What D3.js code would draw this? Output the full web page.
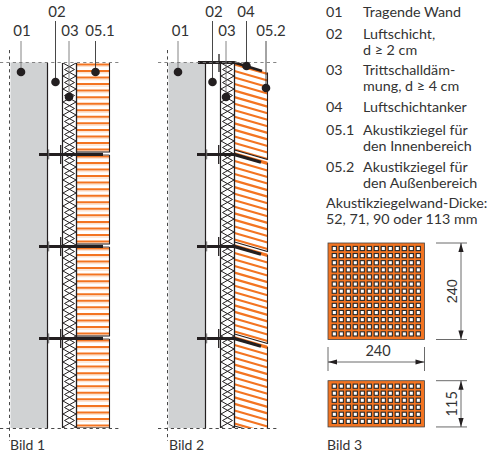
<!DOCTYPE html>
<html>
<head>
<meta charset="utf-8">
<style>
body { margin: 0; background: #fff; }
text { font-family: Lato, "Open Sans", sans-serif; fill: #333; }
</style>
<script src="https://cdnjs.cloudflare.com/ajax/libs/d3/7.8.5/d3.min.js"></script>
</head>
<body>
<div id="chart"></div>
<script>
// legend rows: number + up to two lines
var legendNumbers = ["01", "02", "03", "04", "05.1", "05.2"];
var legendLines = [
    ["Tragende Wand"],
    ["Luftschicht,", "d ≥ 2 cm"],
    ["Trittschalldäm-", "mung, d ≥ 4 cm"],
    ["Luftschichtanker"],
    ["Akustikziegel für", "den Innenbereich"],
    ["Akustikziegel für", "den Außenbereich"]
];
var noteLines = ["Akustikziegelwand-Dicke:", "52, 71, 90 oder 113 mm"];
var figureNames = ["Bild 1", "Bild 2", "Bild 3"];

// wall courses, anchors sit in the joints between them
var courses = [0, 1, 2, 3];
var anchorJoints = [1, 2, 3];
var stripeRows = d3.range(0, 15);
var insulationRows = d3.range(0, 29);

// brick formats in mm, hole grid counts
var brickLength = 240;
var brickHeights = [240, 115];
var holeRows = [13, 6];
var holeCols = 13;

var width = 493, height = 454;
var svg = d3.select("#chart").append("svg")
    .attr("width", width)
    .attr("height", height)
    .style("display", "block");

var dark = "#231f20", orange = "#f37421", pale = "#fde3d0", grey = "#d0d2d3";

// one course = one brick height on the drawing
var y = d3.scaleLinear().domain([0, 4]).range([63, 431]);

function drawWall(ox, tilt, labels) {
    var g = svg.append("g").attr("transform", "translate(" + ox + ",0)");
    var clipId = "clip" + ox;
    g.append("clipPath").attr("id", clipId)
        .append("rect").attr("x", -20).attr("y", 62.5).attr("width", 160).attr("height", 365.5);

    var body = g.append("g").attr("clip-path", "url(#" + clipId + ")");

    // bearing wall
    body.append("rect").attr("x", 0.5).attr("y", 62).attr("width", 37).attr("height", 366).attr("fill", grey);
    g.append("line").attr("x1", 37.5).attr("x2", 37.5).attr("y1", 63).attr("y2", 428)
        .attr("stroke", dark).attr("stroke-width", 1.2);

    // insulation zigzag
    var ih = 13;
    var zig = d3.line().x(function (d) { return d[0]; }).y(function (d) { return d[1]; });
    insulationRows.forEach(function (i) {
        var t = 63 + i * ih;
        [[53, 64.5], [66, 54.5]].forEach(function (p) {
            body.append("path")
                .attr("d", zig([[p[0], t], [p[1], t + ih / 2], [p[0], t + ih]]))
                .attr("fill", "none").attr("stroke", dark).attr("stroke-width", 1);
        });
    });
    g.append("line").attr("x1", 52.5).attr("x2", 52.5).attr("y1", 63).attr("y2", 428)
        .attr("stroke", dark).attr("stroke-width", 1.2);
    g.append("line").attr("x1", 66.5).attr("x2", 66.5).attr("y1", 63).attr("y2", 428)
        .attr("stroke", dark).attr("stroke-width", 1.3);

    // bricks
    var bx0 = 66.5, bx1 = 99.5, bw = bx1 - bx0;
    courses.forEach(function (c) {
        var top = y(c) - (tilt && c > 0 ? 2 : 0);
        var bot = y(c + 1) - (tilt ? 5 : 3);
        var shape = [[bx0, top], [bx1, top + tilt], [bx1, bot + tilt], [bx0, bot]];
        var id = "brick" + ox + "_" + c;
        body.append("clipPath").attr("id", id).append("path").attr("d", zig(shape) + "Z");
        var b = body.append("g").attr("clip-path", "url(#" + id + ")");
        b.append("path").attr("d", zig(shape) + "Z").attr("fill", "#fff");
        stripeRows.forEach(function (r) {
            var sy = top + r * 6.55 + 1.4;
            if (tilt === 0) {
                b.append("line").attr("x1", bx0).attr("x2", bx1).attr("y1", sy + 1.9).attr("y2", sy + 1.9)
                    .attr("stroke", pale).attr("stroke-width", 1.5);
            }
            b.append("line").attr("x1", bx0).attr("x2", bx1).attr("y1", sy).attr("y2", sy + tilt)
                .attr("stroke", orange).attr("stroke-width", tilt ? 2.2 : 2);
        });
        body.append("path")
            .attr("d", zig([[bx1, top + tilt], [bx1, bot + tilt], [bx0, bot]]))
            .attr("fill", "none").attr("stroke", dark).attr("stroke-width", 1.1);
        if (c > 0) {
            body.append("line").attr("x1", bx0).attr("x2", bx1).attr("y1", top).attr("y2", top + tilt)
                .attr("stroke", tilt ? orange : dark).attr("stroke-width", tilt ? 1.5 : 0.8);
        }
    });

    // anchors
    anchorJoints.forEach(function (j) {
        var ay = y(j) - 0.6;
        g.append("line").attr("x1", 29).attr("x2", 66).attr("y1", ay).attr("y2", ay)
            .attr("stroke", dark).attr("stroke-width", 3);
        g.append("line").attr("x1", 66).attr("x2", 93).attr("y1", ay).attr("y2", ay + tilt * 27 / bw)
            .attr("stroke", dark).attr("stroke-width", 3.2);
        g.append("line").attr("x1", 50.7).attr("x2", 50.7).attr("y1", ay - 9.5).attr("y2", ay + 9.5)
            .attr("stroke", dark).attr("stroke-width", 1.3);
        g.append("line").attr("x1", 38.7).attr("x2", 38.7).attr("y1", ay - 5).attr("y2", ay + 5)
            .attr("stroke", "#666").attr("stroke-width", 1);
    });
    if (tilt !== 0) {
        // top anchor of the outer wall
        g.append("path").attr("d", zig([[30, 62.5], [66, 62.5], [94, 71]]))
            .attr("fill", "none").attr("stroke", dark).attr("stroke-width", 2.8);
        g.append("line").attr("x1", 51).attr("x2", 51).attr("y1", 54).attr("y2", 72)
            .attr("stroke", dark).attr("stroke-width", 1.3);
    }

    // dashed section lines
    [62.5, 428.5].forEach(function (dy) {
        g.append("line").attr("x1", -10).attr("x2", 110).attr("y1", dy).attr("y2", dy)
            .attr("stroke", dy < 100 ? "#777" : "#333").attr("stroke-width", 0.9).attr("stroke-dasharray", "3.2,3.2");
    });
    g.append("line").attr("x1", -0.5).attr("x2", -0.5).attr("y1", 50).attr("y2", 441)
        .attr("stroke", "#333").attr("stroke-width", 0.9).attr("stroke-dasharray", "3.2,3.2");

    // callouts
    labels.forEach(function (d) {
        var tall = d.row === 0;
        g.append("line").attr("x1", d.x).attr("x2", d.x).attr("y1", tall ? 21 : 41).attr("y2", d.dot)
            .attr("stroke", d.name === "01" || d.name === "03" ? "#777" : "#333").attr("stroke-width", 0.9);
        g.append("circle").attr("cx", d.x).attr("cy", d.dot).attr("r", 4.3).attr("fill", dark);
        g.append("text").attr("x", d.tx).attr("y", tall ? 17 : 36).attr("text-anchor", "middle")
            .attr("font-size", 15).text(d.name);
    });
}

drawWall(10, 0, [
    { name: "01", x: 11, dot: 72, tx: 12, row: 1 },
    { name: "02", x: 45.5, dot: 82, tx: 47, row: 0 },
    { name: "03", x: 59, dot: 97, tx: 60, row: 1 },
    { name: "05.1", x: 85.5, dot: 72, tx: 90, row: 1 }
]);
drawWall(168, 9.5, [
    { name: "01", x: 10, dot: 72, tx: 12.5, row: 1 },
    { name: "02", x: 44.5, dot: 82, tx: 46, row: 0 },
    { name: "03", x: 58, dot: 97, tx: 59, row: 1 },
    { name: "04", x: 78.5, dot: 66, tx: 78, row: 0 },
    { name: "05.2", x: 98, dot: 88, tx: 103, row: 1 }
]);

// legend
var legendY = [16.7, 38.8, 75, 112, 134.5, 172];
legendNumbers.forEach(function (n, i) {
    svg.append("text").attr("x", 326).attr("y", legendY[i]).attr("font-size", 14.3).text(n);
    legendLines[i].forEach(function (t, k) {
        svg.append("text").attr("x", 363).attr("y", legendY[i] + k * 16).attr("font-size", 14.3).text(t);
    });
});
noteLines.forEach(function (t, k) {
    svg.append("text").attr("x", 326).attr("y", 208 + k * 16).attr("font-size", 14.3).text(t);
});

// brick cross sections, mm -> px
var mm = d3.scaleLinear().domain([0, brickLength]).range([0, 96.5]);
var x0 = 328;
[243, 380.7].forEach(function (top, i) {
    var h = mm(brickHeights[i]);
    svg.append("rect").attr("x", x0).attr("y", top).attr("width", mm(brickLength)).attr("height", h)
        .attr("fill", orange).attr("stroke", "#444").attr("stroke-width", 0.8);
    var cols = d3.scalePoint().domain(d3.range(holeCols)).range([x0 + 6.3, x0 + 90.3]);
    var rows = d3.scalePoint().domain(d3.range(holeRows[i])).range([top + 5.5, top + h - 5.6]);
    d3.range(holeRows[i]).forEach(function (r) {
        d3.range(holeCols).forEach(function (c) {
            svg.append("rect").attr("x", cols(c) - 2.1).attr("y", rows(r) - 2.1)
                .attr("width", 4.2).attr("height", 4.2)
                .attr("fill", "#fff").attr("stroke", "#2a2a2a").attr("stroke-width", 1.1);
        });
    });

    // vertical dimension
    var bottom = top + h;
    [top, bottom].forEach(function (ey) {
        svg.append("line").attr("x1", 436).attr("x2", 467).attr("y1", ey).attr("y2", ey)
            .attr("stroke", "#444").attr("stroke-width", 0.8);
    });
    svg.append("line").attr("x1", 461).attr("x2", 461).attr("y1", top).attr("y2", bottom)
        .attr("stroke", "#444").attr("stroke-width", 0.8);
    svg.append("path").attr("d", "M461," + top + "l-2.6,9h5.2Z").attr("fill", dark);
    svg.append("path").attr("d", "M461," + bottom + "l-2.6,-9h5.2Z").attr("fill", dark);
    svg.append("text")
        .attr("transform", "translate(456.5," + ((top + bottom) / 2) + ") rotate(-90)")
        .attr("text-anchor", "middle").attr("font-size", 14.5)
        .style("font-family", i === 0 ? "'Liberation Sans'" : null)
        .text(brickHeights[i]);
});

// horizontal dimension
[x0, x0 + mm(brickLength)].forEach(function (ex) {
    svg.append("line").attr("x1", ex).attr("x2", ex).attr("y1", 347).attr("y2", 371)
        .attr("stroke", "#444").attr("stroke-width", 0.8);
});
svg.append("line").attr("x1", x0).attr("x2", x0 + mm(brickLength)).attr("y1", 362).attr("y2", 362)
    .attr("stroke", "#444").attr("stroke-width", 0.8);
svg.append("path").attr("d", "M" + x0 + ",362l9,-2.6v5.2Z").attr("fill", dark);
svg.append("path").attr("d", "M" + (x0 + mm(brickLength)) + ",362l-9,-2.6v5.2Z").attr("fill", dark);
svg.append("text").attr("x", x0 + 50).attr("y", 356).attr("text-anchor", "middle").attr("font-size", 14.5).text(brickLength);

// figure captions
[10, 169, 327].forEach(function (fx, i) {
    svg.append("text").attr("x", fx).attr("y", 450).attr("font-size", 14).text(figureNames[i]);
});
</script>
</body>
</html>
